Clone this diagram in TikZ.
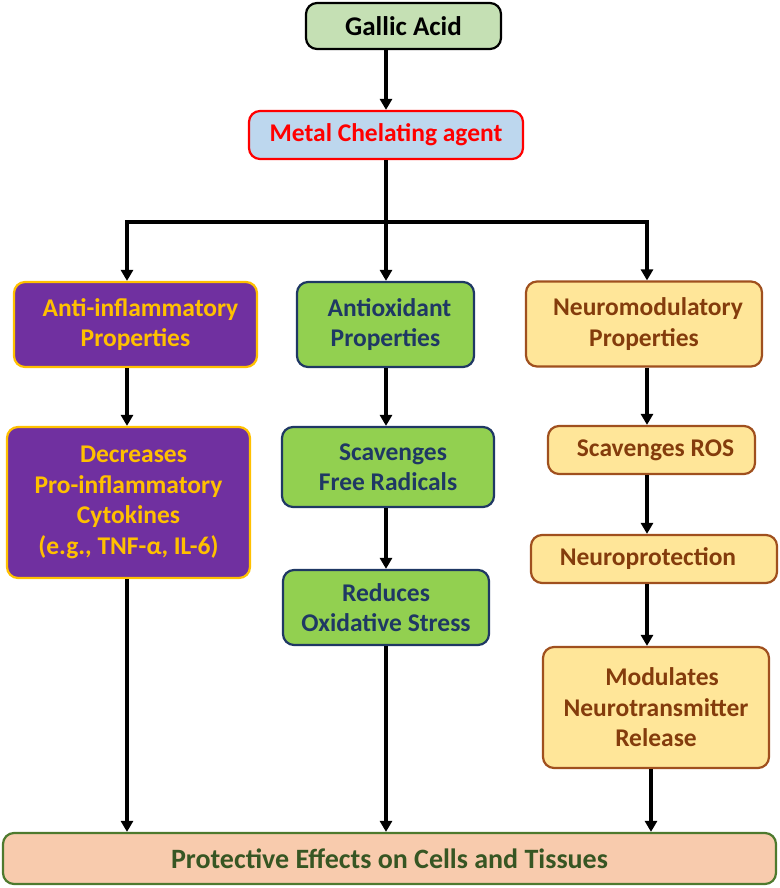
\documentclass[tikz,border=0pt]{standalone}
\usepackage{fontspec}
\setmainfont{Carlito}
\usetikzlibrary{arrows.meta}
\definecolor{gaFill}{HTML}{C5E0B4}
\definecolor{mcFill}{HTML}{BDD7EE}
\definecolor{mcRed}{HTML}{FF0000}
\definecolor{purp}{HTML}{7030A0}
\definecolor{gold}{HTML}{FFC000}
\definecolor{grn}{HTML}{92D050}
\definecolor{navy}{HTML}{1F3864}
\definecolor{ylw}{HTML}{FFE699}
\definecolor{brn}{HTML}{A0501E}
\definecolor{brnTxt}{HTML}{843C0C}
\definecolor{peach}{HTML}{F8CBAD}
\definecolor{dgreen}{HTML}{4E7A2E}
\definecolor{dgTxt}{HTML}{375623}
\tikzset{
  box/.style={draw, rounded corners=11pt, line width=2.2pt, align=center, inner sep=0pt,
    font=\fontsize{25.5}{30.5}\selectfont\bfseries},
  gabox/.style={box, fill=gaFill, draw=black, text=black},
  mcbox/.style={box, fill=mcFill, draw=mcRed, text=mcRed},
  aibox/.style={box, fill=purp, draw=gold, text=gold},
  aobox/.style={box, fill=grn, draw=navy, text=navy},
  nmbox/.style={box, fill=ylw, draw=brn, text=brnTxt},
  pebox/.style={box, fill=peach, draw=dgreen, text=dgTxt},
  arr/.style={line width=3.2pt, -{Triangle[length=11pt,width=12pt]}},
  ln/.style={line width=3.2pt}
}
\begin{document}
\begin{tikzpicture}[x=1pt,y=-1pt]
\useasboundingbox (0,0) rectangle (779,888);
\node[gabox, minimum width=195pt, minimum height=46pt, font=\fontsize{27}{30}\selectfont\bfseries] (ga) at (403.5,26) {Gallic Acid};
\node[mcbox, minimum width=274pt, minimum height=48pt] (mc) at (386,135) {Metal Chelating agent};
\node[aibox, minimum width=243pt, minimum height=85pt] (ai) at (135.5,324.5) {\hspace*{10pt}Anti-inflammatory\\Properties};
\node[aobox, minimum width=177pt, minimum height=85pt] (ao) at (385.5,324.5) {\hspace*{8pt}Antioxidant\\Properties};
\node[nmbox, minimum width=236pt, minimum height=85pt] (nm) at (644,324) {\hspace*{8pt}Neuromodulatory\\Properties};
\node[aibox, minimum width=243pt, minimum height=151pt] (dc) at (128.5,502.5) {\hspace*{10pt}Decreases\\Pro-inflammatory\\Cytokines\\(e.g., TNF-α, IL-6)};
\node[aobox, minimum width=212pt, minimum height=80pt] (sf) at (388,467) {\hspace*{10pt}Scavenges\\Free Radicals};
\node[aobox, minimum width=206pt, minimum height=75pt] (ro) at (386,607.5) {Reduces\\Oxidative Stress};
\node[nmbox, minimum width=207pt, minimum height=48pt] (sr) at (651.5,450) {\hspace*{8pt}Scavenges ROS};
\node[nmbox, minimum width=246pt, minimum height=48pt] (np) at (654,559) {Neuroprotection\hspace*{12pt}};
\node[nmbox, minimum width=226pt, minimum height=121pt] (mn) at (656,707.5) {\hspace*{12pt}Modulates\\Neurotransmitter\\Release};
\node[pebox, minimum width=773pt, minimum height=51pt, font=\fontsize{28}{30}\selectfont\bfseries] (pe) at (389.5,858.5) {Protective Effects on Cells and Tissues};
\coordinate (cL) at (127,0);
\coordinate (cM) at (386,0);
\coordinate (cR) at (647,0);
\coordinate (j) at (386,222);
\draw[arr] (ga.south -| mc) -- (mc.north);
\draw[ln] (mc.south) -- (j);
\draw[ln, line cap=rect] (j -| cL) -- (j -| cR);
\draw[arr] (j -| cL) -- (ai.north -| cL);
\draw[arr] (j) -- (ao.north -| cM);
\draw[arr] (j -| cR) -- (nm.north -| cR);
\draw[arr] (ai.south -| cL) -- (dc.north -| cL);
\draw[arr] (ao.south -| cM) -- (sf.north -| cM);
\draw[arr] (sf.south -| cM) -- (ro.north -| cM);
\draw[arr] (nm.south -| cR) -- (sr.north -| cR);
\draw[arr] (sr.south -| cR) -- (np.north -| cR);
\draw[arr] (np.south -| cR) -- (mn.north -| cR);
\draw[arr] (dc.south -| cL) -- (pe.north -| cL);
\draw[arr] (ro.south -| cM) -- (pe.north -| cM);
\draw[arr] ([xshift=4pt]mn.south -| cR) -- ([xshift=4pt]pe.north -| cR);
\end{tikzpicture}
\end{document}
